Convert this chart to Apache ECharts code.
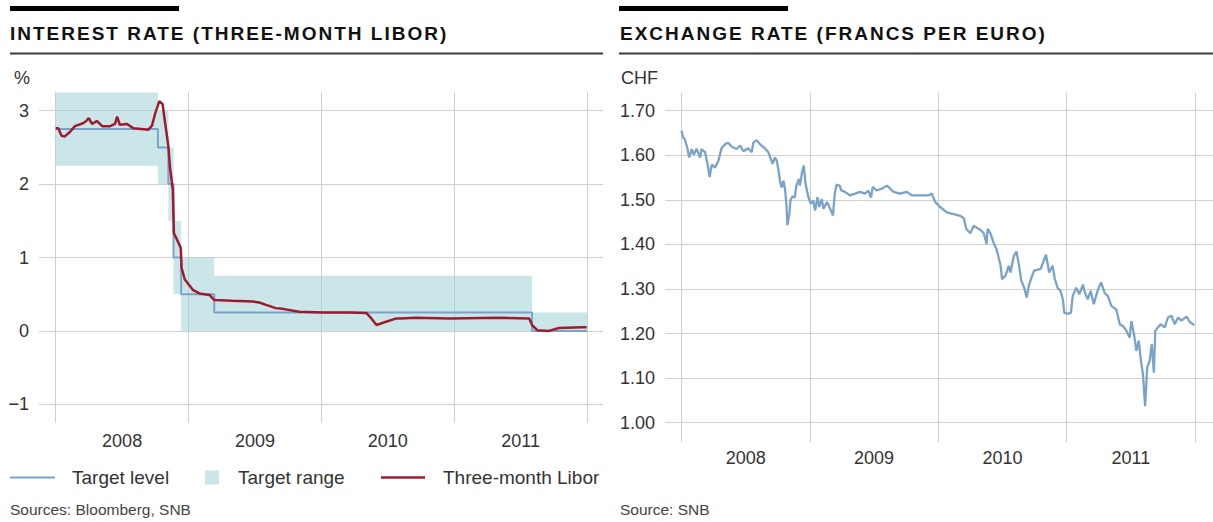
<!DOCTYPE html>
<html><head><meta charset="utf-8">
<script src="https://cdn.jsdelivr.net/npm/echarts@6/dist/echarts.min.js"></script>
<style>
html,body{margin:0;padding:0;background:#fff;}
#c{width:1213px;height:522px;}
#c svg text[style*="bold"]{letter-spacing:2.0px;}
</style></head><body><div id="c"></div>
<script>
// ---------- data ----------
const years = ['2008', '2009', '2010', '2011'];

const rangeStart = ['2008-01-01','2008-10-08','2008-11-06','2008-11-20','2008-12-11','2009-03-12','2011-08-03'];
const rangeEnd   = ['2008-10-08','2008-11-06','2008-11-20','2008-12-11','2009-03-12','2011-08-03','2012-01-01'];
const rangeLow   = [2.25, 2.0, 1.5, 0.5, 0.0, 0.0, 0.0];
const rangeHigh  = [3.25, 3.0, 2.5, 1.5, 1.0, 0.75, 0.25];

const targetDates  = ['2008-01-01','2008-10-08','2008-11-06','2008-11-20','2008-12-11','2009-03-12','2011-08-03','2012-01-01'];
const targetValues = [2.75, 2.5, 2.0, 1.0, 0.5, 0.25, 0.0, 0.0];

const liborDates = ['2008-01-01','2008-01-08','2008-01-17','2008-01-26','2008-02-09','2008-02-23','2008-03-16','2008-03-25',
  '2008-04-01','2008-04-10','2008-04-23','2008-05-08','2008-05-30','2008-06-12','2008-06-18','2008-06-25','2008-07-15',
  '2008-08-02','2008-09-12','2008-09-22','2008-10-01','2008-10-12','2008-10-21','2008-10-28','2008-11-06','2008-11-10',
  '2008-11-18','2008-11-21','2008-11-29','2008-12-10','2008-12-12','2008-12-21','2009-01-12','2009-01-30','2009-02-27',
  '2009-03-12','2009-05-01','2009-06-26','2009-07-14','2009-08-01','2009-08-10','2009-08-28','2009-09-16','2009-11-01',
  '2010-01-05','2010-03-19','2010-05-04','2010-05-18','2010-06-01','2010-06-19','2010-07-26','2010-08-04','2010-09-18',
  '2010-12-18','2011-05-05','2011-07-26','2011-08-03','2011-08-17','2011-09-18','2011-10-16','2011-12-18','2011-12-31'];
const liborValues = [2.76,2.76,2.66,2.65,2.71,2.79,2.83,2.86,
  2.90,2.82,2.86,2.79,2.79,2.82,2.92,2.81,2.82,
  2.76,2.74,2.80,2.97,3.13,3.09,2.83,2.51,2.24,
  1.92,1.33,1.25,1.13,0.86,0.70,0.56,0.51,0.49,
  0.42,0.41,0.40,0.386,0.355,0.34,0.31,0.30,0.26,
  0.25,0.25,0.245,0.17,0.08,0.11,0.17,0.17,0.18,
  0.17,0.18,0.17,0.08,0.01,0.00,0.04,0.05,0.05];

const chfDates = ['2008-01-01','2008-01-06','2008-01-10','2008-01-17','2008-01-23','2008-01-30','2008-02-05','2008-02-13',
  '2008-02-23','2008-02-27','2008-03-08','2008-03-15','2008-03-21','2008-03-27','2008-04-05','2008-04-15','2008-04-24',
  '2008-05-04','2008-05-13','2008-05-23','2008-06-06','2008-06-16','2008-06-25','2008-07-09','2008-07-19','2008-07-23',
  '2008-08-02','2008-08-11','2008-08-25','2008-09-04','2008-09-11','2008-09-16','2008-09-23','2008-09-28','2008-10-03',
  '2008-10-07','2008-10-12','2008-10-17','2008-10-22','2008-10-26','2008-10-28','2008-11-03','2008-11-06','2008-11-12',
  '2008-11-18','2008-11-23','2008-11-30','2008-12-03','2008-12-09','2008-12-14','2008-12-19','2008-12-27',
  '2009-01-03','2009-01-10','2009-01-15','2009-01-22','2009-01-27','2009-02-03','2009-02-08','2009-02-18','2009-02-27',
  '2009-03-07','2009-03-12','2009-03-17','2009-03-26','2009-03-31','2009-04-10','2009-04-24','2009-05-09','2009-05-23',
  '2009-06-06','2009-06-16','2009-06-23','2009-06-28','2009-07-09','2009-07-24','2009-08-07','2009-08-17','2009-08-26',
  '2009-09-14','2009-10-03','2009-10-17','2009-11-10','2009-12-03','2009-12-13','2009-12-23',
  '2010-01-06','2010-01-25','2010-03-04','2010-03-14','2010-03-21','2010-04-02','2010-04-11','2010-04-30','2010-05-10',
  '2010-05-18','2010-05-21','2010-05-29','2010-06-08','2010-06-15','2010-06-19','2010-06-27','2010-07-01','2010-07-11',
  '2010-07-20','2010-07-25','2010-08-04','2010-08-11','2010-08-18','2010-08-25','2010-09-02','2010-09-09','2010-09-16',
  '2010-09-23','2010-09-30','2010-10-19','2010-11-03','2010-11-12','2010-11-22','2010-11-28','2010-12-06','2010-12-14',
  '2010-12-21','2010-12-25',
  '2011-01-04','2011-01-13','2011-01-18','2011-01-28','2011-02-06','2011-02-16','2011-02-22','2011-03-02','2011-03-10',
  '2011-03-19','2011-03-31','2011-04-09','2011-04-19','2011-04-28','2011-05-08','2011-05-22','2011-06-01','2011-06-10',
  '2011-06-20','2011-06-29','2011-07-04','2011-07-13','2011-07-18','2011-07-25','2011-07-30','2011-08-06','2011-08-12',
  '2011-08-18','2011-08-25','2011-08-31','2011-09-06','2011-09-10','2011-09-18','2011-09-25','2011-10-07','2011-10-16',
  '2011-10-26','2011-11-04','2011-11-14','2011-11-23','2011-12-08','2011-12-17','2011-12-30'];
const chfValues = [1.655,1.639,1.637,1.618,1.595,1.614,1.601,1.615,
  1.595,1.614,1.607,1.581,1.551,1.579,1.572,1.588,1.616,
  1.625,1.628,1.619,1.614,1.622,1.609,1.616,1.607,1.628,
  1.634,1.625,1.616,1.607,1.592,1.581,1.595,1.588,1.566,
  1.543,1.528,1.543,1.521,1.484,1.443,1.469,1.499,1.508,
  1.505,1.532,1.547,1.532,1.562,1.577,1.536,1.506,
  1.491,1.498,1.476,1.506,1.484,1.502,1.480,1.495,1.480,
  1.465,1.514,1.534,1.532,1.521,1.518,1.510,1.514,1.518,
  1.514,1.521,1.505,1.529,1.521,1.525,1.532,1.525,1.518,
  1.514,1.518,1.510,1.510,1.510,1.514,1.495,
  1.484,1.472,1.464,1.459,1.435,1.425,1.442,1.433,1.425,
  1.401,1.435,1.425,1.401,1.390,1.378,1.352,1.322,1.330,
  1.352,1.337,1.375,1.384,1.354,1.318,1.303,1.281,1.310,
  1.326,1.341,1.345,1.377,1.337,1.352,1.323,1.303,1.296,
  1.277,1.247,
  1.244,1.247,1.284,1.303,1.288,1.310,1.291,1.277,1.296,
  1.266,1.299,1.315,1.291,1.284,1.262,1.254,1.221,1.217,
  1.206,1.191,1.228,1.191,1.161,1.184,1.146,1.108,1.037,
  1.124,1.139,1.176,1.112,1.206,1.214,1.221,1.214,1.236,
  1.240,1.221,1.236,1.229,1.238,1.226,1.219];

// ---------- styles ----------
const F = '"Liberation Sans", Arial, sans-serif';
const TXT = '#333';
const GRID = '#d0d0d0';
const BAND = 'rgba(150,205,211,0.5)';
const BLUE = '#7aa3c9';
const RED = '#9e1b2d';

const bandData = rangeStart.map((s, i) => [s, rangeEnd[i], rangeLow[i], rangeHigh[i]]);
const targetData = targetDates.map((d, i) => [d, targetValues[i]]);
const liborData = liborDates.map((d, i) => [d, liborValues[i]]);
const chfData = chfDates.map((d, i) => [d, chfValues[i]]);

const L = {top: 92.4, height: 330.2};
const R = {top: 92.9, height: 349.4};

function hAxis(gridIndex, min, max, iv, fmt, margin) {
  return {
    type: 'value', gridIndex, min, max, minInterval: iv, maxInterval: iv,
    axisLine: {show: false}, axisTick: {show: false},
    axisLabel: {show: true, formatter: fmt, fontSize: 18, color: TXT, fontFamily: F, margin,
      showMinLabel: false, showMaxLabel: false},
    splitLine: {show: true, showMinLine: false, showMaxLine: false, lineStyle: {color: GRID, width: 1}}
  };
}
function hiddenY(gridIndex, min, max) {
  return {type: 'value', gridIndex, min, max, show: false, splitLine: {show: false}};
}
function yearAxis(gridIndex, margin) {
  return {
    type: 'category', gridIndex, data: years, boundaryGap: true, position: 'bottom',
    axisLine: {show: false}, axisTick: {show: false},
    axisLabel: {fontSize: 18, color: TXT, fontFamily: F, margin, interval: 0},
    splitLine: {show: true, interval: 0, lineStyle: {color: GRID, width: 1}}
  };
}

const LEG = {fontSize: 19, color: TXT, fontFamily: F};

const option = {
  animation: false,
  backgroundColor: '#fff',
  grid: [
    {left: 39, width: 564, top: L.top, height: L.height},
    {left: 55.7, width: 531.3, top: L.top, height: L.height},
    {left: 665, width: 548, top: R.top, height: R.height},
    {left: 681.5, width: 513.5, top: R.top, height: R.height}
  ],
  xAxis: [
    {type: 'value', gridIndex: 0, min: 0, max: 1, show: false},
    {type: 'time', gridIndex: 1, min: '2008-01-01', max: '2012-01-01', show: false},
    yearAxis(1, 9),
    {type: 'value', gridIndex: 2, min: 0, max: 1, show: false},
    {type: 'time', gridIndex: 3, min: '2008-01-01', max: '2012-01-01', show: false},
    yearAxis(3, 7)
  ],
  yAxis: [
    hAxis(0, -1.25, 3.25, 1, v => (v < 0 ? '\u2212' + Math.abs(v) : String(v)), 10),
    hiddenY(1, -1.25, 3.25),
    hAxis(2, 0.956, 1.74, 0.1, v => v.toFixed(2), 10),
    hiddenY(3, 0.956, 1.74)
  ],
  legend: [
    {left: 10, top: 468, padding: 0, itemWidth: 45, itemHeight: 14, selectedMode: false,
      data: [{name: 'Target level', icon: 'path://M0 0H45V2H0Z'}],
      textStyle: Object.assign({padding: [0, 0, 0, 12]}, LEG)},
    {left: 205, top: 468, padding: 0, itemWidth: 14, itemHeight: 14, selectedMode: false,
      data: [{name: 'Target range', icon: 'rect'}],
      textStyle: Object.assign({padding: [0, 0, 0, 14]}, LEG)},
    {left: 381, top: 468, padding: 0, itemWidth: 44, itemHeight: 14, selectedMode: false,
      data: [{name: 'Three-month Libor', icon: 'path://M0 0H44V2.5H0Z'}],
      textStyle: Object.assign({padding: [0, 0, 0, 13]}, LEG)}
  ],
  graphic: [
    {type: 'rect', shape: {x: 10, y: 6, width: 169, height: 5}, style: {fill: '#000'}},
    {type: 'rect', shape: {x: 619, y: 6, width: 169, height: 5}, style: {fill: '#000'}},
    {type: 'rect', shape: {x: 10, y: 52.5, width: 593, height: 2}, style: {fill: '#3a3a3a'}},
    {type: 'rect', shape: {x: 619, y: 52.5, width: 594, height: 2}, style: {fill: '#3a3a3a'}},
    {type: 'text', x: 10, y: 33, style: {text: 'INTEREST RATE (THREE-MONTH LIBOR)', fontSize: 19, fontWeight: 'bold', fontFamily: F, fill: '#111', verticalAlign: 'middle'}},
    {type: 'text', x: 620, y: 33, style: {text: 'EXCHANGE RATE (FRANCS PER EURO)', fontSize: 19, fontWeight: 'bold', fontFamily: F, fill: '#111', verticalAlign: 'middle'}},
    {type: 'text', x: 14, y: 78, style: {text: '%', fontSize: 18, fontFamily: F, fill: TXT, verticalAlign: 'middle'}},
    {type: 'text', x: 621, y: 78, style: {text: 'CHF', fontSize: 18, fontFamily: F, fill: TXT, verticalAlign: 'middle'}},
    {type: 'text', x: 10, y: 509, style: {text: 'Sources: Bloomberg, SNB', fontSize: 15.5, fontFamily: F, fill: '#444', verticalAlign: 'middle'}},
    {type: 'text', x: 620, y: 509, style: {text: 'Source: SNB', fontSize: 15.5, fontFamily: F, fill: '#444', verticalAlign: 'middle'}}
  ],
  series: [
    {
      name: 'Target range', type: 'custom', xAxisIndex: 1, yAxisIndex: 1,
      dimensions: [{name: 'start', type: 'time'}, {name: 'end', type: 'time'}, 'low', 'high'],
      encode: {x: [0, 1], y: [2, 3]},
      itemStyle: {color: BAND},
      data: bandData,
      renderItem: (params, api) => {
        const p0 = api.coord([api.value(0), api.value(3)]);
        const p1 = api.coord([api.value(1), api.value(2)]);
        return {type: 'rect', shape: {x: p0[0], y: p0[1], width: p1[0] - p0[0], height: p1[1] - p0[1]},
          style: {fill: BAND}};
      }
    },
    {
      name: 'Target level', type: 'line', xAxisIndex: 1, yAxisIndex: 1, step: 'end',
      symbol: 'none', data: targetData, itemStyle: {color: BLUE},
      lineStyle: {color: BLUE, width: 2}
    },
    {
      name: 'Three-month Libor', type: 'line', xAxisIndex: 1, yAxisIndex: 1,
      symbol: 'none', data: liborData, itemStyle: {color: RED},
      lineStyle: {color: RED, width: 2.5}
    },
    {
      name: 'CHF per EUR', type: 'line', xAxisIndex: 4, yAxisIndex: 3,
      symbol: 'none', data: chfData, itemStyle: {color: BLUE},
      lineStyle: {color: BLUE, width: 2.3}
    }
  ]
};

const chart = echarts.init(document.getElementById('c'), null, {renderer: 'svg', width: 1213, height: 522});
chart.setOption(option);
</script></body></html>
